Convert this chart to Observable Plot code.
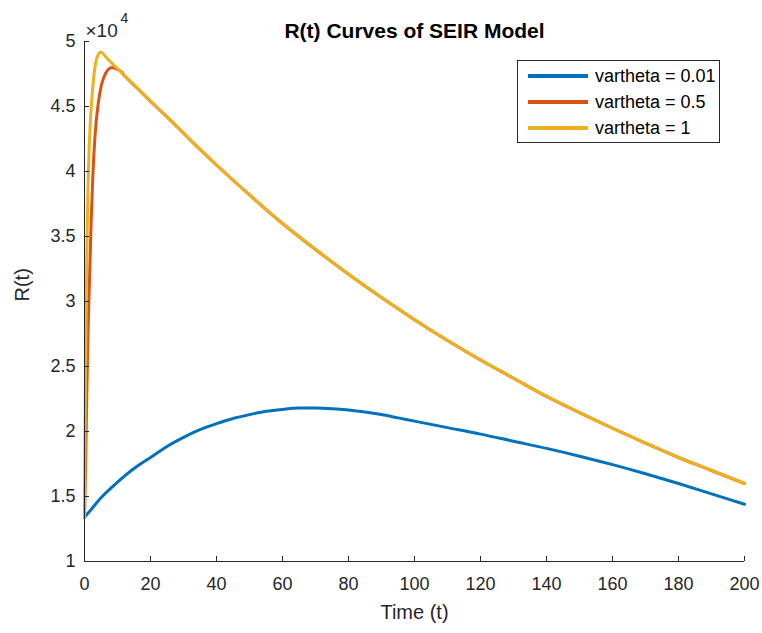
<!DOCTYPE html>
<html><head><meta charset="utf-8">
<script src="https://cdn.jsdelivr.net/npm/d3@7"></script>
<script src="https://cdn.jsdelivr.net/npm/@observablehq/plot@0.6"></script>
<style>
body{margin:0;background:#fff;font-family:"Liberation Sans",Arial,sans-serif;}
#wrap{position:relative;width:762px;height:633px;}
#legend{position:absolute;left:517px;top:60px;width:203px;height:83px;border:1px solid #262626;background:#fff;box-sizing:border-box;font-size:18px;color:#000;}
.row{position:absolute;left:0;height:20px;display:flex;align-items:center;}
.sw{width:60px;height:4px;margin-left:10px;margin-right:7px;}
</style></head>
<body><div id="wrap"></div>
<script>
const chartTitle = "R(t) Curves of SEIR Model";
const xLabel = "Time (t)";
const yLabel = "R(t)";
const seriesNames = ["vartheta = 0.01", "vartheta = 0.5", "vartheta = 1"];
const seriesColors = ["#0072BD", "#D95319", "#EDB120"];
const xTicks = [0,20,40,60,80,100,120,140,160,180,200];
const yTicks = [1,1.5,2,2.5,3,3.5,4,4.5,5];

// values in units of 10^4
const tBlue = [0,2,5,10,15,20,25,30,35,40,45,50,55,60,65,70,75,80,85,90,95,100,110,120,130,140,150,160,170,180,190,200];
const rBlue = [1.34,1.40,1.49,1.61,1.715,1.80,1.885,1.955,2.015,2.06,2.10,2.13,2.155,2.17,2.18,2.18,2.175,2.165,2.15,2.13,2.105,2.08,2.03,1.98,1.925,1.87,1.81,1.745,1.675,1.60,1.52,1.44];

const tTail = [16,20,25,30,35,40,50,60,70,80,90,100,110,120,130,140,150,160,170,180,190,200];
const rTail = [4.64,4.54,4.42,4.295,4.17,4.05,3.82,3.60,3.40,3.21,3.03,2.86,2.70,2.55,2.41,2.27,2.145,2.025,1.91,1.80,1.70,1.60];

const tRedHead = [0,0.3,0.6,1,1.5,2,2.5,3.2,4.2,5,5.8,7,8.3,9.5,11,12];
const rRedHead = [1.34,1.7,2.15,2.7,3.15,3.6,3.95,4.28,4.53,4.65,4.72,4.78,4.80,4.79,4.77,4.74];

const tYellowHead = [0,0.15,0.3,0.5,0.7,1,1.3,1.7,2.2,2.7,3.2,3.7,4.2,4.8,5.5,6.5,8,10,12];
const rYellowHead = [1.34,1.9,2.4,2.95,3.35,3.8,4.1,4.35,4.55,4.7,4.81,4.87,4.9,4.92,4.91,4.88,4.84,4.79,4.74];

const seriesT = [tBlue, tRedHead.concat(tTail), tYellowHead.concat(tTail)];
const seriesR = [rBlue, rRedHead.concat(rTail), rYellowHead.concat(rTail)];

const data = [];
seriesNames.forEach((name, i) => {
  seriesT[i].forEach((t, j) => data.push({series: name, t, r: seriesR[i][j]}));
});

const font = "Liberation Sans, Arial, Helvetica, sans-serif";
const chart = Plot.plot({
  width: 762, height: 633,
  marginLeft: 84, marginRight: 18, marginTop: 41, marginBottom: 72,
  style: {fontFamily: font, background: "#fff", color: "#262626", overflow: "visible"},
  x: {domain: [0, 200], label: null},
  y: {domain: [1, 5], label: null},
  color: {domain: seriesNames, range: seriesColors},
  marks: [
    Plot.line(data, {x: "t", y: "r", z: "series", stroke: "series", strokeWidth: 3, strokeLinejoin: "round", curve: "monotone-x"}),
    Plot.ruleX([0], {stroke: "#262626", strokeWidth: 1}),
    Plot.ruleY([1], {stroke: "#262626", strokeWidth: 1}),
    Plot.axisX({ticks: xTicks, tickSize: -5, tickPadding: 21, tickFormat: d => String(d), fontSize: 18, stroke: "#262626", fill: "#262626", label: null}),
    Plot.axisY({ticks: yTicks, tickSize: -5, tickPadding: 14, tickFormat: d => String(d), fontSize: 18, stroke: "#262626", fill: "#262626", label: null}),
    Plot.text([chartTitle], {frameAnchor: "top", dy: -18, fontSize: 21, fontWeight: "bold", fill: "#000"}),
    Plot.text([xLabel], {frameAnchor: "bottom", dy: 57, fontSize: 20, fill: "#262626"}),
    Plot.text([yLabel], {frameAnchor: "left", dx: -62, rotate: -90, fontSize: 20, fill: "#262626"}),
    Plot.text(["×10"], {frameAnchor: "top-left", dx: 1, dy: -18, textAnchor: "start", fontSize: 19, fill: "#262626"}),
    Plot.text(["4"], {frameAnchor: "top-left", dx: 36, dy: -28, textAnchor: "start", fontSize: 14, fill: "#262626"})
  ]
});
const wrap = document.getElementById("wrap");
wrap.appendChild(chart);

const legend = document.createElement("div");
legend.id = "legend";
seriesNames.forEach((name, i) => {
  const row = document.createElement("div");
  row.className = "row";
  row.style.top = (5 + i * 26) + "px";
  const sw = document.createElement("div");
  sw.className = "sw";
  sw.style.background = seriesColors[i];
  const tx = document.createElement("span");
  tx.textContent = name;
  row.appendChild(sw); row.appendChild(tx);
  legend.appendChild(row);
});
wrap.appendChild(legend);
</script></body></html>
